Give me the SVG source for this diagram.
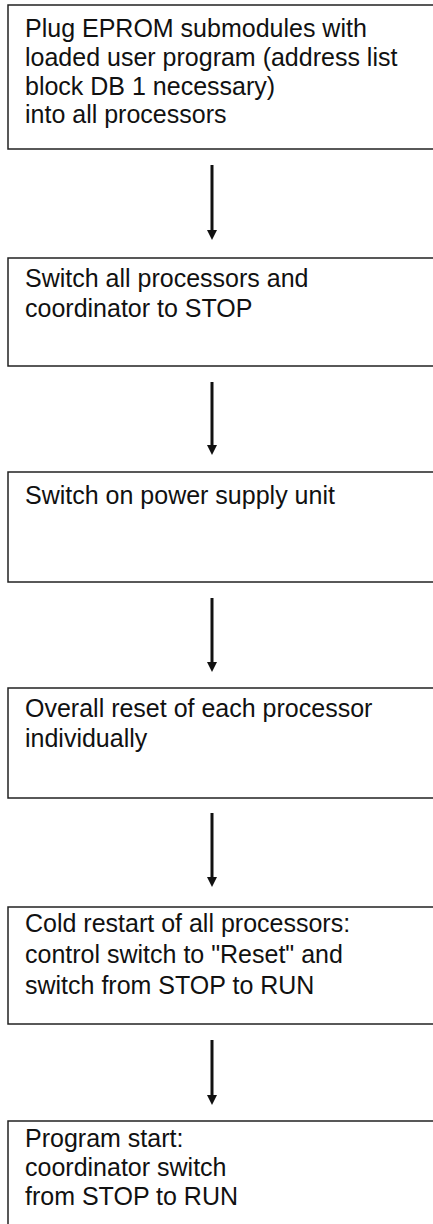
<svg xmlns="http://www.w3.org/2000/svg" width="433" height="1224" viewBox="0 0 433 1224">
<style>
.box{fill:#fff;stroke:#222;stroke-width:1.5}
.t{font-family:"Liberation Sans",Arial,sans-serif;font-size:25px;fill:#111}
.c{stroke:#111;stroke-width:3;fill:none}
</style>
<defs>
<marker id="ah" markerWidth="10" markerHeight="10" refX="5" refY="5" orient="auto" markerUnits="userSpaceOnUse" viewBox="0 0 10 10">
<path d="M0,0 L10,5 L0,10 Z" fill="#111"/>
</marker>
</defs>
<rect width="433" height="1224" fill="#fff"/>
<g id="n1">
<rect class="box" x="8" y="5" width="440" height="144"/>
<text class="t" x="25" y="37">Plug EPROM submodules with</text>
<text class="t" x="25" y="66">loaded user program (address list</text>
<text class="t" x="25" y="95">block DB 1 necessary)</text>
<text class="t" x="25" y="123">into all processors</text>
</g>
<g id="n2">
<rect class="box" x="8" y="258" width="440" height="108"/>
<text class="t" x="25" y="287">Switch all processors and</text>
<text class="t" x="25" y="317">coordinator to STOP</text>
</g>
<g id="n3">
<rect class="box" x="8" y="472" width="440" height="110"/>
<text class="t" x="25" y="504">Switch on power supply unit</text>
</g>
<g id="n4">
<rect class="box" x="8" y="688" width="440" height="110"/>
<text class="t" x="25" y="717">Overall reset of each processor</text>
<text class="t" x="25" y="747">individually</text>
</g>
<g id="n5">
<rect class="box" x="8" y="907" width="440" height="117"/>
<text class="t" x="25" y="932">Cold restart of all processors:</text>
<text class="t" x="25" y="963">control switch to "Reset" and</text>
<text class="t" x="25" y="994">switch from STOP to RUN</text>
</g>
<g id="n6">
<rect class="box" x="8" y="1121" width="440" height="120"/>
<text class="t" x="25" y="1147">Program start:</text>
<text class="t" x="25" y="1176">coordinator switch</text>
<text class="t" x="25" y="1205">from STOP to RUN</text>
</g>
<g id="connectors">
<line class="c" x1="212" y1="165" x2="212" y2="235" marker-end="url(#ah)"/>
<line class="c" x1="212" y1="382" x2="212" y2="450" marker-end="url(#ah)"/>
<line class="c" x1="212" y1="598" x2="212" y2="667" marker-end="url(#ah)"/>
<line class="c" x1="212" y1="813" x2="212" y2="882" marker-end="url(#ah)"/>
<line class="c" x1="212" y1="1040" x2="212" y2="1100" marker-end="url(#ah)"/>
</g>
</svg>
